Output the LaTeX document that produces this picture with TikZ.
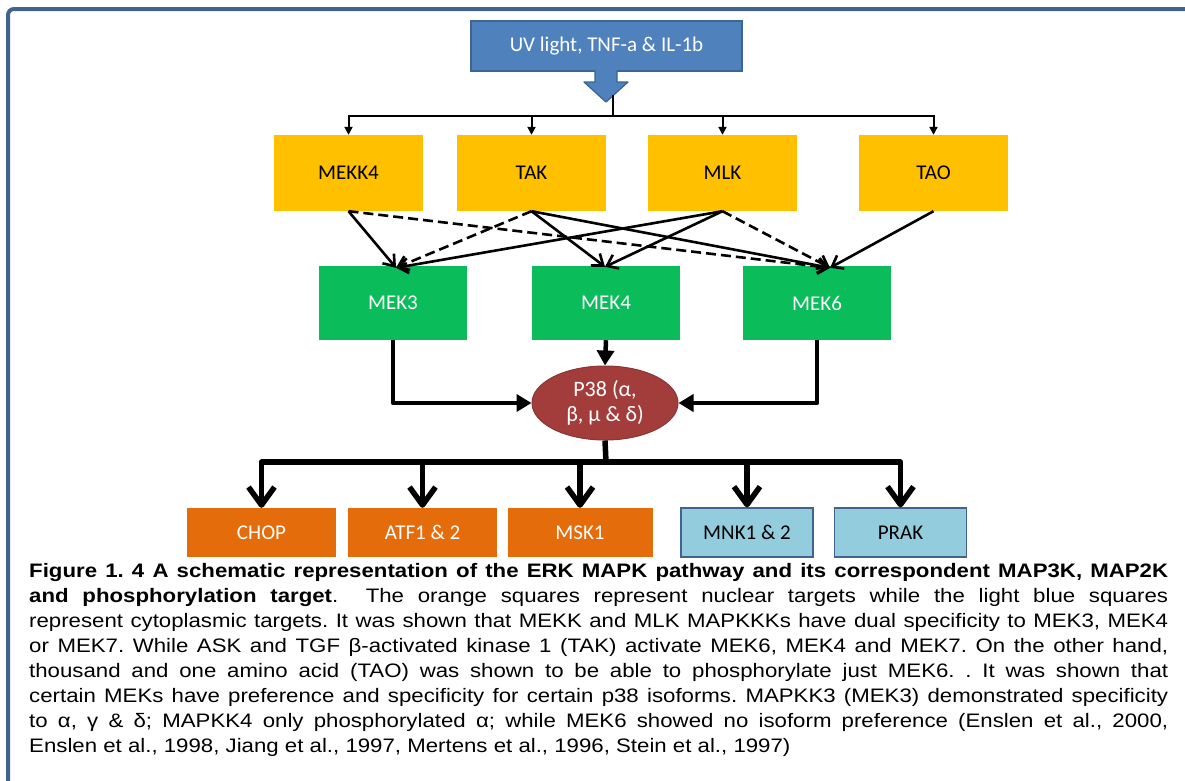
\documentclass[tikz,border=0pt]{standalone}
\usepackage{fontspec}
\setmainfont{Carlito}
\newfontfamily\capfont[FakeStretch=1.14]{Liberation Sans}
\usetikzlibrary{arrows.meta,shapes.geometric,calc}

\definecolor{frameblue}{HTML}{41648F}
\definecolor{uvblue}{HTML}{4F81BD}
\definecolor{uvedge}{HTML}{3A6595}
\definecolor{kyellow}{HTML}{FFC000}
\definecolor{mekgreen}{HTML}{0ABC5A}
\definecolor{p38red}{HTML}{A33D3B}
\definecolor{p38edge}{HTML}{8C3433}
\definecolor{nucorange}{HTML}{E46C0A}
\definecolor{cytoblue}{HTML}{93CDDD}
\definecolor{cytoedge}{HTML}{41648F}

\begin{document}
\begin{tikzpicture}[x=1pt,y=-1pt,
  boxfont/.style={font=\fontsize{21}{25}\selectfont},
  uvbox/.style={rectangle,boxfont,fill=uvblue,draw=uvedge,line width=1.3pt,
    minimum width=271pt,minimum height=50pt,inner sep=0pt,text=white},
  kbox/.style={rectangle,boxfont,fill=kyellow,minimum width=149pt,
    minimum height=76pt,inner sep=0pt,text=black},
  mekbox/.style={rectangle,boxfont,fill=mekgreen,minimum width=148pt,
    minimum height=74pt,inner sep=0pt,text=white},
  p38node/.style={ellipse,font=\fontsize{22}{25}\selectfont,align=center,
    fill=p38red,draw=p38edge,line width=1pt,minimum width=146pt,
    minimum height=74pt,inner sep=0pt,text=white},
  nucbox/.style={rectangle,boxfont,fill=nucorange,minimum width=149pt,
    minimum height=49pt,inner sep=0pt,text=white,text depth=-3pt},
  cytobox/.style={rectangle,boxfont,fill=cytoblue,draw=cytoedge,line width=1.3pt,
    minimum width=132pt,minimum height=49pt,inner sep=0pt,text=black,text depth=-3pt},
  feed/.style={line width=2pt,-{Triangle[length=8pt,width=8pt]}},
  link/.style={line width=2.6pt,-{Straight Barb[length=10pt,width=15pt]}},
  dashlink/.style={link,dash pattern=on 10pt off 5pt},
  merge/.style={line width=4.5pt,-{Triangle[length=15pt,width=17pt]}},
  spread/.style={line width=5.5pt,line join=round,
    -{Straight Barb[length=18pt,width=26pt,line join=round]}},
  ]
\useasboundingbox (0,0) rectangle (1185,780);
\clip (0,0) rectangle (1185,780);

% outer frame (continues past the right and bottom edges)
\draw[frameblue,line width=4pt,rounded corners=6pt] (1300,9) -- (8,9) -- (8,900);

% stimulus box with its block arrow
\node[uvbox] (uv) at (606.5,46) {UV light, TNF-a \& IL-1b};
\fill[uvblue] (595,69) -- (595,82) -- (584,82) -- (606,102) -- (628,82)
  -- (617,82) -- (617,69) -- cycle;
\draw[uvedge,line width=1.3pt,line join=round] (595,71) -- (595,82) -- (584,82)
  -- (606,102) -- (628,82) -- (617,82) -- (617,71);

% MAP3K row
\node[kbox] (mekk4) at (348.5,173) {MEKK4};
\node[kbox] (tak) at (531.5,173) {TAK};
\node[kbox] (mlk) at (722.5,173) {MLK};
\node[kbox] (tao) at (933.5,173) {TAO};

% MAP2K row
\node[mekbox] (mek3) at (393,303) {MEK3};
\node[mekbox] (mek4) at (606,303) {MEK4};
\node[mekbox] (mek6) at (817,303) {MEK6};

% p38
\node[p38node] (p38) at (605,403) {P38 (α,\\β, μ \& δ)};

% targets
\node[nucbox] (chop) at (261.5,532.5) {CHOP};
\node[nucbox] (atf) at (422.5,532.5) {ATF1 \& 2};
\node[nucbox,minimum width=145pt] (msk) at (580,532.5) {MSK1};
\node[cytobox] (mnk) at (747,532.5) {MNK1 \& 2};
\node[cytobox] (prak) at (900.5,532.5) {PRAK};

% stimulus to MAP3Ks
\coordinate (hubtop) at (613,95);
\coordinate (hub) at (613,116);
\draw[line width=2pt] (hubtop) -- (hub);
\draw[feed] (hub) -| (mekk4.north);
\draw[feed] (hub) -| (tak.north);
\draw[feed] (hub) -| (mlk.north);
\draw[feed] (hub) -| (tao.north);

% MAP3K to MAP2K
\coordinate (in3) at ($(mek3.north)+(3,2)$);
\coordinate (in4) at ($(mek4.north)+(-1,1)$);
\coordinate (in6) at ($(mek6.north)+(13,2)$);
\draw[link] (mekk4.south) -- (in3);
\draw[dashlink] (mekk4.south) -- (in6);
\draw[dashlink] (tak.south) -- (in3);
\draw[link] (tak.south) -- (in4);
\draw[link] (tak.south) -- (in6);
\draw[link] (mlk.south) -- (in3);
\draw[link] (mlk.south) -- (in4);
\draw[dashlink] (mlk.south) -- (in6);
\draw[link] (tao.south) -- (in6);

% MAP2K to p38
\draw[merge,line join=round] (mek3.south) |- (p38.west);
\draw[merge] (mek4.south) -- (p38.north);
\draw[merge,line join=round] (mek6.south) |- (p38.east);

% p38 to targets
\coordinate (bus) at (606,462);
\draw[line width=5.5pt] (p38.south) -- (bus);
\draw[spread] (bus) -| (chop.north);
\draw[spread] (bus) -| (atf.north);
\draw[spread] (bus) -| (msk.north);
\draw[spread] (bus) -| (mnk.north);
\draw[spread] (bus) -| (prak.north);

% legend text
\node[anchor=base west,inner sep=0pt] (caption) at (29,577) {\parbox[t]{1139pt}{%
\capfont\fontsize{19.5}{25.1}\selectfont\frenchspacing
\textbf{Figure 1. 4 A schematic representation of the ERK MAPK pathway and its correspondent MAP3K, MAP2K}\linebreak
\textbf{and phosphorylation target}.\ \ The orange squares represent nuclear targets while the light blue squares\linebreak
represent cytoplasmic targets. It was shown that MEKK and MLK MAPKKKs have dual specificity to MEK3, MEK4\linebreak
or MEK7. While ASK and TGF β-activated kinase 1 (TAK) activate MEK6, MEK4 and MEK7. On the other hand,\linebreak
thousand and one amino acid (TAO) was shown to be able to phosphorylate just MEK6. . It was shown that\linebreak
certain MEKs have preference and specificity for certain p38 isoforms. MAPKK3 (MEK3) demonstrated specificity\linebreak
to α, γ \& δ; MAPKK4 only phosphorylated α; while MEK6 showed no isoform preference (Enslen et al., 2000,\linebreak
Enslen et al., 1998, Jiang et al., 1997, Mertens et al., 1996, Stein et al., 1997)}};
\end{tikzpicture}
\end{document}
